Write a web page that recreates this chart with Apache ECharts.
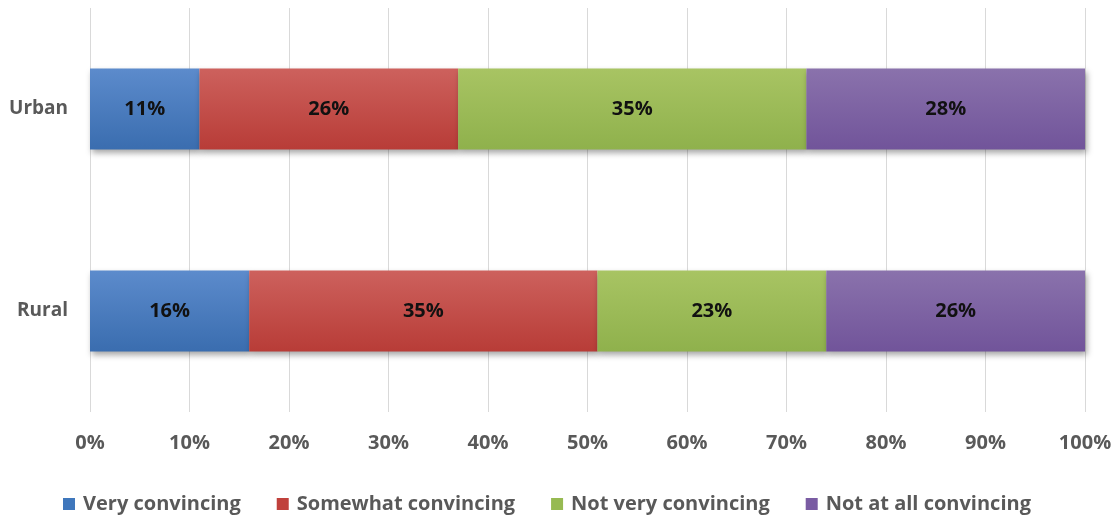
<!DOCTYPE html>
<html><head><meta charset="utf-8">
<script src="https://cdn.jsdelivr.net/npm/echarts@6/dist/echarts.min.js"></script>
<style>html,body{margin:0;padding:0;background:#fff}#c{width:1116px;height:517px}</style>
</head><body><div id="c"></div>
<script>
const categories = ['Rural', 'Urban'];
const seriesNames = ['Very convincing', 'Somewhat convincing', 'Not very convincing', 'Not at all convincing'];
const veryConvincing = [16, 11];
const somewhatConvincing = [35, 26];
const notVeryConvincing = [23, 35];
const notAtAllConvincing = [26, 28];
const xTicks = [0, 10, 20, 30, 40, 50, 60, 70, 80, 90, 100];

const values = [veryConvincing, somewhatConvincing, notVeryConvincing, notAtAllConvincing];
const colorsTop = ['#5c8bcc', '#cd615d', '#a8c463', '#8a72ac'];
const colorsBot = ['#3a6daf', '#b83c37', '#8fb14c', '#71549a'];
const legendColors = ['#3f77bc', '#c0413c', '#97ba52', '#7a5ca3'];
const FONT = '"Open Sans", "Liberation Sans", sans-serif';

const chart = echarts.init(document.getElementById('c'), null, {renderer: 'canvas'});
chart.setOption({
  animation: false,
  backgroundColor: '#fff',
  grid: {left: 90, right: 31, top: 8, bottom: 105, containLabel: false},
  xAxis: {
    type: 'value', min: xTicks[0], max: xTicks[xTicks.length - 1], interval: xTicks[1] - xTicks[0],
    axisLine: {show: false}, axisTick: {show: false},
    splitLine: {show: true, lineStyle: {color: '#d9d9d9', width: 1}},
    axisLabel: {formatter: v => v + '%', color: '#595959', fontSize: 20, fontWeight: 'bold', fontFamily: FONT, margin: 21}
  },
  yAxis: {
    type: 'category', data: categories,
    axisLine: {show: false}, axisTick: {show: false},
    axisLabel: {color: '#595959', fontSize: 19, fontWeight: 'bold', fontFamily: FONT, margin: 22}
  },
  legend: {
    top: 489, left: 58, itemWidth: 12, itemHeight: 12, itemGap: 36,
    icon: 'rect',
    textStyle: {color: '#595959', fontSize: 20, fontWeight: 'bold', fontFamily: FONT, padding: [0, 0, 0, 3]},
    data: seriesNames.map((n, i) => ({name: n, itemStyle: {color: legendColors[i]}}))
  },
  series: seriesNames.map((name, i) => ({
    name, type: 'bar', stack: 'total', barWidth: 81,
    data: values[i],
    itemStyle: {
      color: new echarts.graphic.LinearGradient(0, 0, 0, 1, [
        {offset: 0, color: colorsTop[i]}, {offset: 1, color: colorsBot[i]}
      ]),
      shadowColor: 'rgba(0,0,0,0.35)', shadowBlur: 6, shadowOffsetX: 2, shadowOffsetY: 3
    },
    label: {show: true, position: 'inside', formatter: p => p.value + '%', color: '#111', fontSize: 20, fontWeight: 'bold', fontFamily: FONT}
  }))
});
</script></body></html>
